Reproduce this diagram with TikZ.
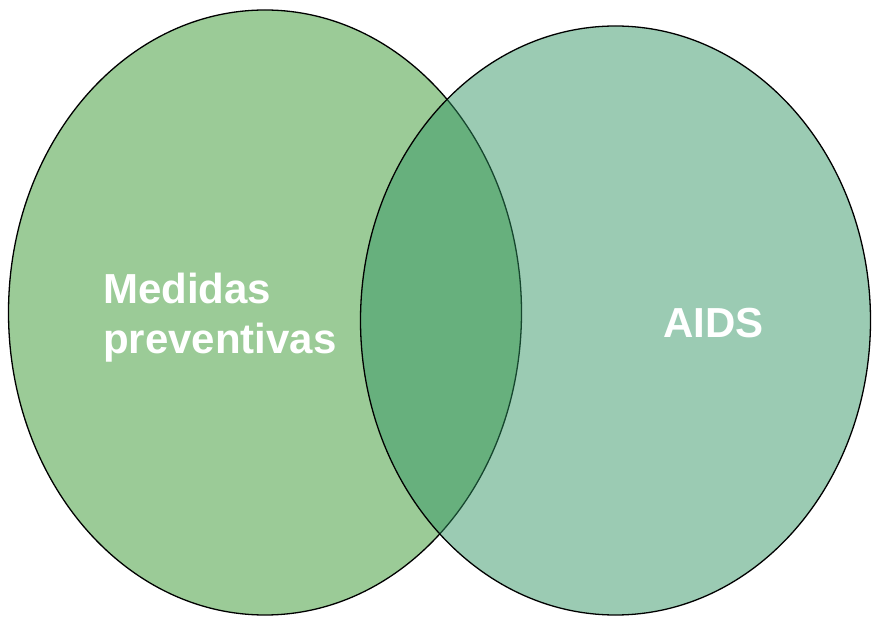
\documentclass[tikz,border=0pt]{standalone}
\usepackage{fontspec}
\setmainfont{Liberation Sans}
\usepackage{xcolor}
\usepackage{tikz}

\definecolor{setleft}{RGB}{155,203,151}
\definecolor{setright}{RGB}{47,147,97}

\begin{document}
\begin{tikzpicture}[x=1pt,y=-1pt,
  set/.style={draw=black,line width=1.3pt},
  lbl/.style={text=white,font=\fontsize{42}{50}\selectfont\bfseries,inner sep=0pt,align=left}]
\useasboundingbox (0,0) rectangle (873,617);
% the two sets
\draw[set,fill=setleft] (265,312.5) ellipse [x radius=256.5,y radius=302.5];
\draw[set,fill=setright,fill opacity=0.48] (615.5,320.5) ellipse [x radius=255,y radius=294.5];
% labels
\node[lbl,anchor=base west] (prev) at (103,354) {Medidas\\preventivas};
\node[lbl,anchor=base west] (aids) at (663,338) {AIDS};
\end{tikzpicture}
\end{document}
